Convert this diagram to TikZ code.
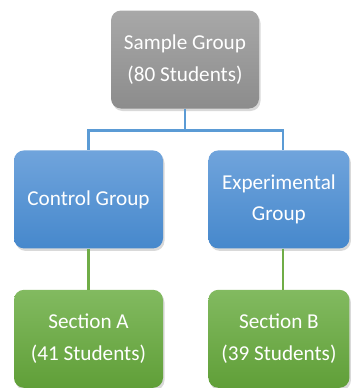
\documentclass[tikz,border=0pt]{standalone}
\usepackage{fontspec}
\setmainfont{Carlito}
\usepackage{tikz}
\usetikzlibrary{positioning, calc, shadows}
\definecolor{graytop}{RGB}{168,168,168}
\definecolor{graybot}{RGB}{140,140,140}
\definecolor{bluetop}{RGB}{112,164,220}
\definecolor{bluebot}{RGB}{70,136,204}
\definecolor{greentop}{RGB}{130,186,96}
\definecolor{greenbot}{RGB}{96,159,56}
\definecolor{blueline}{RGB}{91,155,213}
\definecolor{greenline}{RGB}{112,173,71}
\tikzset{
  box/.style={rectangle, rounded corners=10pt, text=white, align=center,
    minimum width=149pt, minimum height=98pt, inner sep=0pt,
    font=\fontsize{21.2}{31.5}\selectfont,
    drop shadow={shadow xshift=1.5pt, shadow yshift=-2.5pt, opacity=0.3}},
  graybox/.style={box, top color=graytop, bottom color=graybot},
  bluebox/.style={box, top color=bluetop, bottom color=bluebot},
  greenbox/.style={box, top color=greentop, bottom color=greenbot},
  bluelink/.style={line width=2.6pt, color=blueline},
  greenlink/.style={line width=2.6pt, color=greenline}
}
\begin{document}
\begin{tikzpicture}
  \clip (0,0) rectangle (351pt,-388pt);
  \useasboundingbox (0,0) rectangle (351pt,-388pt);

  % Top
  \node[graybox, minimum width=148pt] (sample) at (185pt,-59.5pt) {Sample Group\\(80 Students)};

  % Groups
  \node[bluebox, below=41.5pt of sample, xshift=-96.5pt] (ctrl) {Control Group};
  \node[bluebox, minimum width=141pt, right=45pt of ctrl] (expt) {Experimental\\Group};

  % Sections
  \node[greenbox, below=41pt of ctrl] (secA) {Section A\\(41 Students)};
  \node[greenbox, minimum width=141pt, right=45pt of secA] (secB) {Section B\\(39 Students)};

  % Links
  \coordinate (split) at ($(sample.south)!0.52!(sample.south |- ctrl.north)$);
  \draw[bluelink] (sample.south) -- (split) -| (ctrl.north);
  \draw[bluelink] (split) -| ([xshift=4pt]expt.north);
  \draw[greenlink] (ctrl.south) -- (secA.north);
  \draw[greenlink] ([xshift=4pt]expt.south) -- ([xshift=4pt]secB.north);
\end{tikzpicture}
\end{document}
